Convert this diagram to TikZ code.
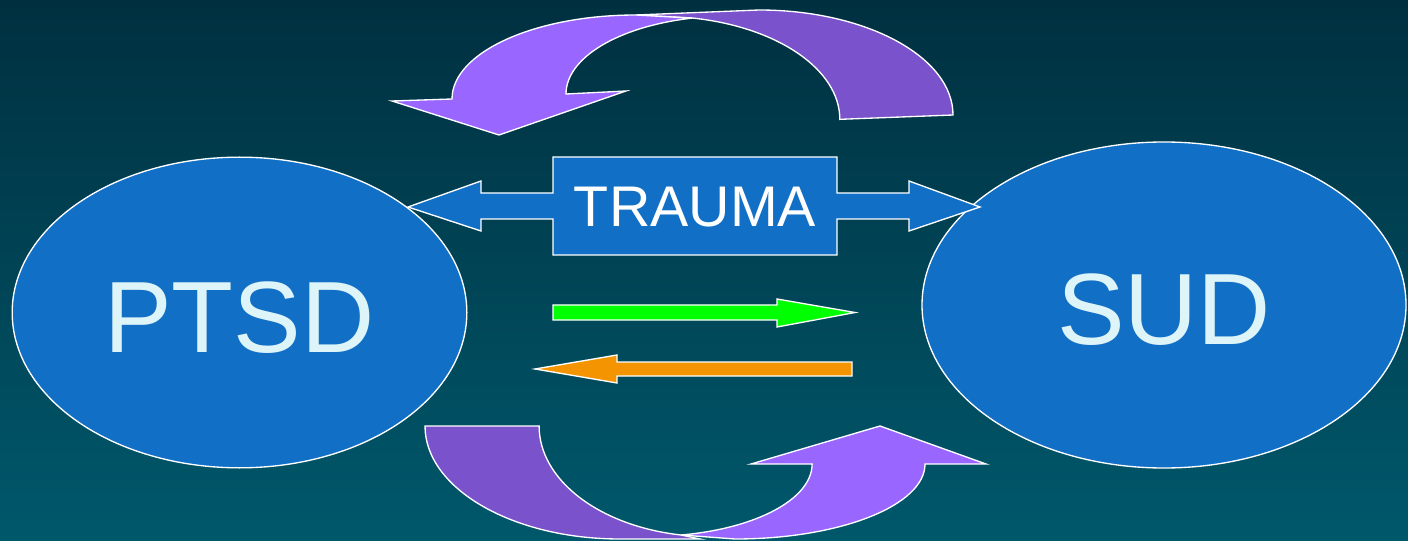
\documentclass[tikz,border=0pt]{standalone}
\usepackage{fontspec}
\setmainfont{Liberation Sans}
\usetikzlibrary{shapes.geometric}
\definecolor{bgtop}{RGB}{0,48,64}
\definecolor{bgbottom}{RGB}{0,88,107}
\definecolor{discblue}{RGB}{17,111,198}
\definecolor{palecyan}{RGB}{221,244,248}
\definecolor{lightviolet}{RGB}{153,102,255}
\definecolor{darkviolet}{RGB}{122,82,204}
\definecolor{arrowgreen}{RGB}{0,255,0}
\definecolor{arroworange}{RGB}{243,148,0}

\begin{document}
\begin{tikzpicture}[x=0.75pt,y=-0.75pt,
    outline/.style={draw=white,line width=1pt,line join=miter},
    main node/.style={ellipse,outline,fill=discblue,inner sep=0pt,text=palecyan,
                      text height=60pt,font=\fontsize{76}{80}\selectfont}]

  % background
  \fill[top color=bgtop,bottom color=bgbottom] (0,0) rectangle (1408,541);
  \useasboundingbox (0,0) rectangle (1408,541);

  \node[main node,minimum width=341pt,minimum height=233pt] (ptsd) at (239.5,312.5) {PTSD};
  \node[main node,minimum width=363pt,minimum height=244.5pt] (sud) at (1164,305) {SUD};

  % trauma box with two heads
  \path[outline,fill=discblue]
    (408,207) -- (481,181) -- (481,193) -- (553,193) -- (553,157) -- (837,157)
    -- (837,193) -- (909,193) -- (909,181) -- (980,207) -- (909,231) -- (909,219)
    -- (837,219) -- (837,255) -- (553,255) -- (553,219) -- (481,219) -- (481,231) -- cycle;
  \node[text=white,font=\fontsize{43}{48}\selectfont] (trauma) at (695,207) {TRAUMA};

  % straight arrows
  \path[outline,fill=arrowgreen]
    (553,305) -- (777,305) -- (777,299) -- (855,312.5) -- (777,327) -- (777,320) -- (553,320) -- cycle;
  \path[outline,fill=arroworange]
    (852,362) -- (617,362) -- (617,355) -- (535,369) -- (617,383) -- (617,376) -- (852,376) -- cycle;

  % curved arrow on top
  \path[outline,fill=darkviolet]
    (953,115) arc[start angle=0,end angle=-90,x radius=194,y radius=105]
    -- (636,15) -- (692,18)
    arc[start angle=-79.7,end angle=0,x radius=180,y radius=103] -- cycle;
  \path[outline,fill=lightviolet]
    (636,15) arc[start angle=-90,end angle=-180,x radius=184,y radius=84]
    -- (392,101) -- (499,135) -- (626,91) -- (566,94)
    arc[start angle=180,end angle=256.6,x radius=164,y radius=78] -- cycle;

  % curved arrow below
  \path[outline,fill=darkviolet]
    (425,426) arc[start angle=180,end angle=90,x radius=195,y radius=113]
    -- (700,539) -- (681,535)
    arc[start angle=99.8,end angle=180,x radius=171,y radius=110.6] -- cycle;
  \path[outline,fill=lightviolet]
    (925,464) arc[start angle=0,end angle=90,x radius=190,y radius=75]
    -- (681,535)
    arc[start angle=79,end angle=0,x radius=162,y radius=72.3]
    -- (751,464) -- (880,426) -- (986,464) -- cycle;

\end{tikzpicture}
\end{document}
